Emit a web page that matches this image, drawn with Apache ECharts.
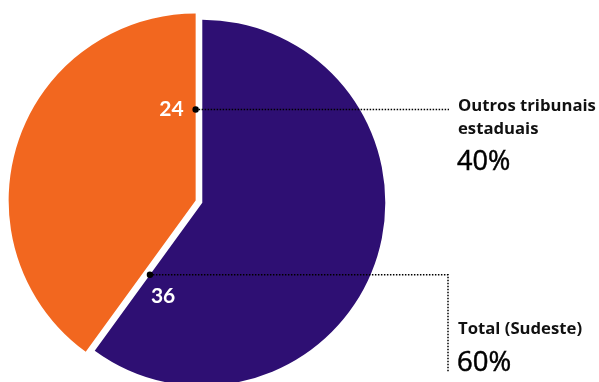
<!DOCTYPE html>
<html><head><meta charset="utf-8">
<script src="https://cdn.jsdelivr.net/npm/echarts@6/dist/echarts.min.js"></script>
<style>html,body{margin:0;padding:0;background:#fff}#c{width:599px;height:382px}</style>
</head><body><div id="c"></div>
<script>
const categories = ['Total (Sudeste)', 'Outros tribunais estaduais'];
const nameLines = [['Total (Sudeste)'], ['Outros tribunais', 'estaduais']];
const values = [36, 24];
const percentLabels = ['60%', '40%'];
const colors = ['#2E0F73', '#F2671F'];

const CX = 202.3, CY = 202.7;
const R_MAIN = 183, R_OUT = 187, OFFSET = 7;
const FONT = '"Open Sans", Lato, sans-serif';
const NUM_FONT = 'Lato, "Open Sans", sans-serif';

const chart = echarts.init(document.getElementById('c'), null, {renderer: 'canvas'});
const total = values.reduce((a, b) => a + b, 0);

function seriesFor(idx, radius) {
  return {
    type: 'pie', center: [CX, CY], radius: radius, startAngle: 90, clockwise: true,
    silent: true, animation: false, selectedMode: 'single', selectedOffset: OFFSET,
    label: {show: false}, labelLine: {show: false}, emphasis: {disabled: true},
    avoidLabelOverlap: false,
    data: categories.map((n, i) => ({
      name: n, value: values[i], selected: (i === idx && idx === 1),
      itemStyle: {color: i === idx ? colors[i] : 'rgba(0,0,0,0)', borderWidth: 0}
    }))
  };
}

// slice angles (canvas coords, clockwise from 12 o'clock)
let acc = -Math.PI / 2;
const slices = values.map(v => { const s = acc; acc += v / total * 2 * Math.PI; return {s: s, e: acc, m: (s + acc) / 2}; });

const graphics = [];
const LINE_X = [449, 448];
const TEXT_X = 458;
slices.forEach((sl, i) => {
  const off = i === 1 ? OFFSET : 0;
  const r = i === 1 ? R_OUT : R_MAIN;
  const cx = CX + off * Math.cos(sl.m), cy = CY + off * Math.sin(sl.m);
  const d = 0.487 * r;
  const px = cx + d * Math.cos(sl.e), py = cy + d * Math.sin(sl.e);
  const pts = i === 1 ? [[px, py], [LINE_X[0], py]] : [[px, py], [LINE_X[1], py], [LINE_X[1], 372]];
  graphics.push({type: 'polyline', shape: {points: pts}, style: {stroke: '#000', lineWidth: 1.5, lineDash: [1.5, 1.5], fill: null}, z: 10});
  graphics.push({type: 'circle', shape: {cx: px, cy: py, r: 3.2}, style: {fill: '#000'}, z: 11});
  if (i === 1) {
    graphics.push({type: 'text', x: px - 12, y: py, style: {text: String(values[i]), fill: '#fff', font: 'bold 21px ' + NUM_FONT, align: 'right', verticalAlign: 'middle'}, z: 12});
    nameLines[i].forEach((t, k) => {
      graphics.push({type: 'text', x: TEXT_X, y: py - 3 + k * 23, style: {text: t, fill: '#111', font: 'bold 16.7px ' + FONT, align: 'left', verticalAlign: 'middle'}, z: 12});
    });
    graphics.push({type: 'text', x: TEXT_X - 1, y: py + 53, style: {text: percentLabels[i], fill: '#000', font: '27px ' + FONT, align: 'left', verticalAlign: 'middle', stroke: '#000', lineWidth: 0.5}, z: 12});
  } else {
    graphics.push({type: 'text', x: px + 1, y: py + 21, style: {text: String(values[i]), fill: '#fff', font: 'bold 21px ' + NUM_FONT, align: 'left', verticalAlign: 'middle'}, z: 12});
    graphics.push({type: 'text', x: TEXT_X, y: py + 54, style: {text: nameLines[i][0], fill: '#111', font: 'bold 16.7px ' + FONT, align: 'left', verticalAlign: 'middle'}, z: 12});
    graphics.push({type: 'text', x: TEXT_X - 1, y: py + 88, style: {text: percentLabels[i], fill: '#000', font: '27.5px ' + FONT, align: 'left', verticalAlign: 'middle', stroke: '#000', lineWidth: 0.5}, z: 12});
  }
});

chart.setOption({
  animation: false,
  backgroundColor: '#fff',
  series: [seriesFor(0, R_MAIN), seriesFor(1, R_OUT)],
  graphic: graphics
});
</script></body></html>
